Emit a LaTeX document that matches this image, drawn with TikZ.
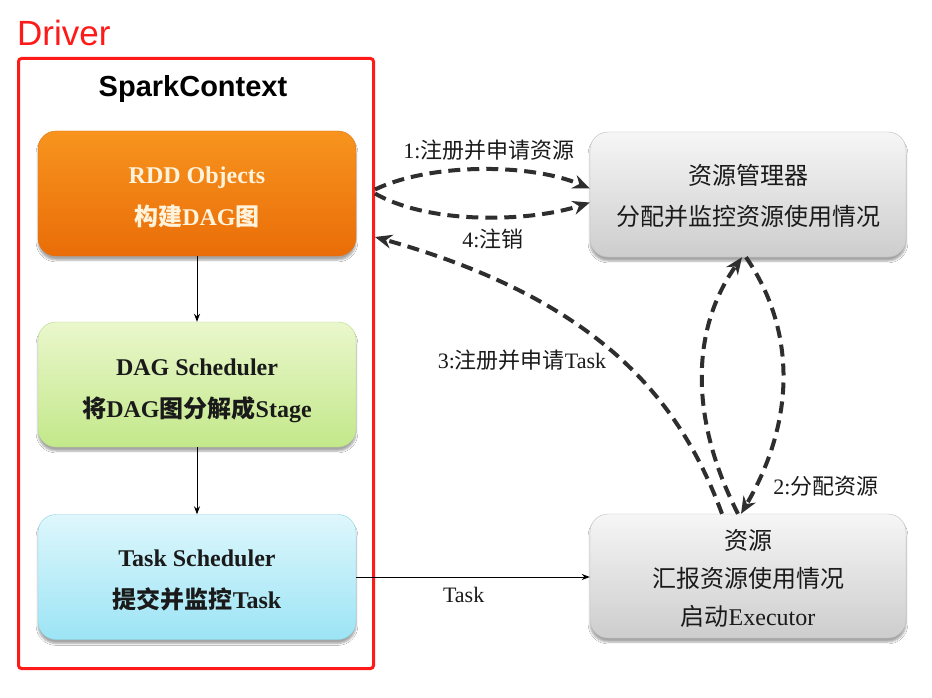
\documentclass[tikz,border=0pt]{standalone}
\usepackage{fontspec}
\setmainfont{Liberation Serif}
\newfontfamily\cjk{Noto Sans CJK SC}
\newfontfamily\sansfam{Liberation Sans}
\usetikzlibrary{arrows.meta,shadows.blur}
\newcommand\ZH[1]{{\cjk\mdseries #1}}
\newcommand\ZB[1]{{\cjk #1}}
\definecolor{orTop}{HTML}{F7941E}
\definecolor{orBot}{HTML}{EA6D08}
\definecolor{orDraw}{HTML}{E07418}
\definecolor{orText}{HTML}{FFF3DC}
\definecolor{grTop}{HTML}{EAF7CC}
\definecolor{grBot}{HTML}{C3E88A}
\definecolor{grDraw}{HTML}{B5D98A}
\definecolor{cyTop}{HTML}{DEF7FC}
\definecolor{cyBot}{HTML}{9CE4F5}
\definecolor{cyDraw}{HTML}{8CD2E3}
\definecolor{gyTop}{HTML}{F6F6F6}
\definecolor{gyBot}{HTML}{CDCDCD}
\definecolor{gyDraw}{HTML}{BDBDBD}
\definecolor{txt}{HTML}{1A1A1A}
\definecolor{dashc}{HTML}{2E2E2E}
\definecolor{drvred}{HTML}{FF1A1A}
\begin{document}
\begin{tikzpicture}[x=1pt,y=-1pt,
  box/.style={rounded corners=18pt, minimum width=318pt, minimum height=125pt,
    inner sep=0pt,
    blur shadow={shadow xshift=0pt,shadow yshift=-4pt,shadow blur steps=6,shadow opacity=35}},
  lefttext/.style={align=center, text=txt, inner sep=0pt, font=\bfseries\fontsize{24}{42}\selectfont},
  righttext/.style={align=center, text=txt, inner sep=0pt, font=\fontsize{24}{41}\selectfont},
  orangebox/.style={box, top color=orTop, bottom color=orBot, draw=orDraw},
  greenbox/.style={box, top color=grTop, bottom color=grBot, draw=grDraw},
  cyanbox/.style={box, top color=cyTop, bottom color=cyBot, draw=cyDraw},
  graybox/.style={box, minimum width=316pt, top color=gyTop, bottom color=gyBot, draw=gyDraw},
  lbl/.style={font=\fontsize{22}{22}\selectfont, text=txt, inner sep=1pt},
  dasharrow/.style={draw=dashc, line width=4pt, dash pattern=on 12pt off 7pt,
    -{Stealth[length=17pt,width=14pt]}},
  thinarrow/.style={draw=black, line width=0.9pt, -{Stealth[length=8pt,width=6pt]}}
]
\useasboundingbox[fill=white] (0,0) rectangle (932,698);

% Driver frame
\node[anchor=west, text=drvred, font=\sansfam\fontsize{35}{35}\selectfont, inner sep=0pt] (drv) at (17,33) {Driver};
\node[draw=drvred, line width=3pt, rounded corners=3pt, minimum width=355pt, minimum height=610pt, inner sep=0pt] (driver) at (196,363.5) {};
\node[font=\sansfam\bfseries\fontsize{29}{29}\selectfont, text=black] (sc) at (193,89) {SparkContext};

% left boxes
\node[orangebox] (rdd) at (197,193.5) {};
\node[lefttext, text=orText] (rddt) at ([yshift=-4pt]rdd.center) {RDD Objects\\\ZB{构建}DAG\ZB{图}};
\node[greenbox] (dag) at (197,384.5) {};
\node[lefttext] (dagt) at ([yshift=-6pt]dag.center) {DAG Scheduler\\\ZB{将}DAG\ZB{图分解成}Stage};
\node[cyanbox] (task) at (197,577) {};
\node[lefttext] (taskt) at ([yshift=-3pt]task.center) {Task Scheduler\\\ZB{提交并监控}Task};

% right boxes
\node[graybox] (rm) at (748,194.5) {};
\node[righttext] (rmt) at ([yshift=-1pt]rm.center) {\ZH{资源管理器}\\\ZH{分配并监控资源使用情况}};
\node[graybox, minimum height=124pt] (worker) at (748,576) {};
\node[righttext, font=\fontsize{24}{38}\selectfont] (workert) at ([yshift=-2pt]worker.center) {\ZH{资源}\\\ZH{汇报资源使用情况}\\\ZH{启动}Executor};

% solid arrows
\draw[thinarrow] (rdd) -- (dag);
\draw[thinarrow] (dag) -- (task);
\draw[thinarrow] (task.east) -- node[pos=0.46, below=9pt, lbl] (ltask) {Task} (task.east -| worker.west);

% dashed arrows
\draw[dasharrow] ([yshift=174pt]driver.east) .. controls (430,163) and (530,163) .. ([yshift=6pt]rm.west);
\draw[dasharrow] ([yshift=170pt]driver.east) .. controls (430,225) and (530,222) .. ([yshift=-8pt]rm.west);
\draw[dasharrow] ([xshift=-26pt]worker.north) .. controls (680,400) and (600,300) .. ([yshift=126.5pt]driver.east);
\draw[dasharrow] ([xshift=-10pt]worker.north) .. controls (690,420) and (690,330) .. ([xshift=-6pt]rm.south);
\draw[dasharrow] ([xshift=-2pt]rm.south) .. controls (796,330) and (796,420) .. ([xshift=-7pt]worker.north);

% labels
\node[lbl] (l1) at (489,150) {1:\ZH{注册并申请资源}};
\node[lbl] (l4) at (493,239) {4:\ZH{注销}};
\node[lbl] (l3) at (522,360) {3:\ZH{注册并申请}Task};
\node[lbl] (l2) at (826,486) {2:\ZH{分配资源}};
\end{tikzpicture}
\end{document}
